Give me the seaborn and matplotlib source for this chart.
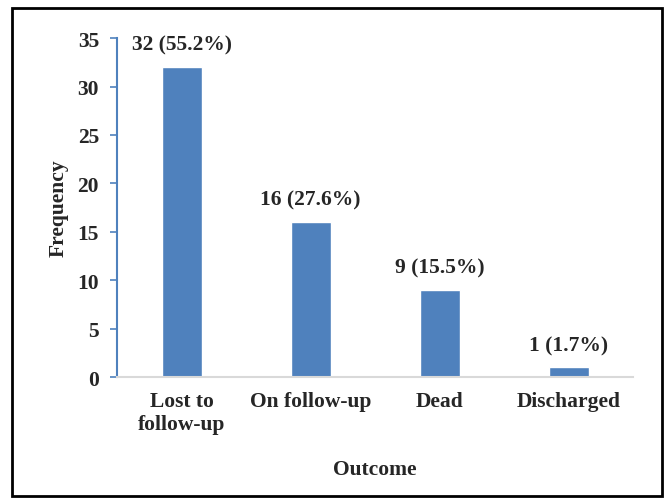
import matplotlib
matplotlib.use("Agg")
import matplotlib.pyplot as plt
import seaborn as sns
import pandas as pd
from matplotlib.patches import Rectangle

# data
outcomes = ["Lost to\nfollow-up", "On follow-up", "Dead", "Discharged"]
counts = [32, 16, 9, 1]
percents = [55.2, 27.6, 15.5, 1.7]

df = pd.DataFrame({"Outcome": outcomes, "Frequency": counts})

sns.set_style("white")
plt.rcParams["font.family"] = ["Liberation Serif", "DejaVu Serif"]
plt.rcParams["font.weight"] = "bold"

bar_color = "#4F81BD"

fig = plt.figure(figsize=(6.66, 5.02), dpi=100)
ax = fig.add_axes([0.1757, 0.247, 0.775, 0.675])

sns.barplot(data=df, x="Outcome", y="Frequency", color=bar_color,
            width=0.31, saturation=1, ax=ax)

# value labels above bars
for i, (c, p) in enumerate(zip(counts, percents)):
    ax.annotate(f"{c} ({p}%)", (i, c), xytext=(0, 16), textcoords="offset points",
                ha="center", va="center", fontsize=15.5, fontweight="bold")

ax.set_ylim(0, 35)
ax.set_yticks(range(0, 36, 5))
ax.set_xlim(-0.5, 3.5)

ax.set_xlabel("Outcome", fontsize=15.5, fontweight="bold", labelpad=18)
ax.set_ylabel("Frequency", fontsize=15.5, fontweight="bold", labelpad=6)

ax.tick_params(axis="y", left=True, length=5, width=1.2, color=bar_color,
               labelsize=15.5, pad=8)
ax.tick_params(axis="x", length=0, labelsize=15.5, pad=10)
for lbl in ax.get_xticklabels() + ax.get_yticklabels():
    lbl.set_fontweight("bold")

for s in ["top", "right"]:
    ax.spines[s].set_visible(False)
ax.spines["left"].set_color(bar_color)
ax.spines["left"].set_linewidth(1.5)
ax.spines["bottom"].set_color("#d9d9d9")
ax.spines["bottom"].set_linewidth(1.5)

# outer frame around the figure
fig.patches.append(Rectangle((0.018, 0.01), 0.976, 0.972, transform=fig.transFigure,
                             fill=False, edgecolor="black", linewidth=2))

fig.savefig("out.png", dpi=100)
